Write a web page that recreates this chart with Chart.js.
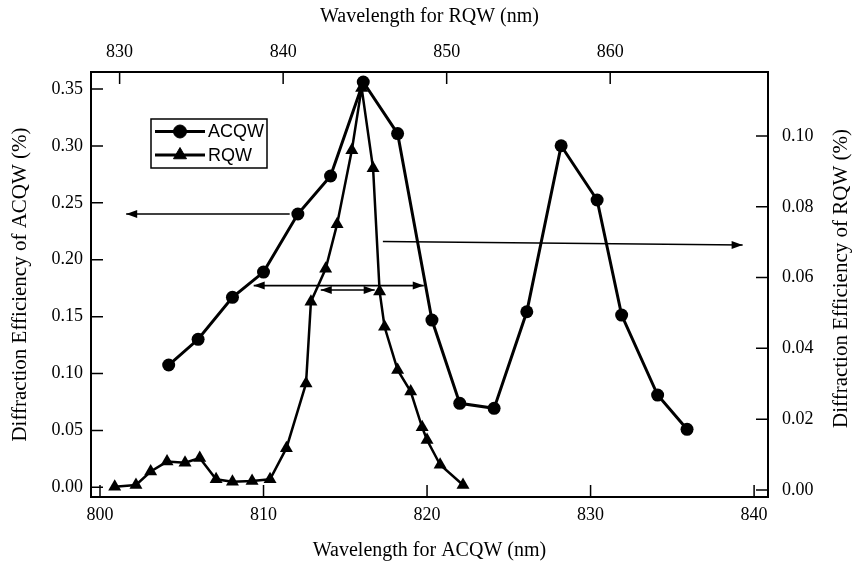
<!DOCTYPE html>
<html>
<head>
<meta charset="utf-8">
<script src="https://cdn.jsdelivr.net/npm/chart.js@4.4.0/dist/chart.umd.min.js"></script>
<style>
  html, body { margin: 0; padding: 0; background: #fff; }
  #wrap { width: 854px; height: 569px; }
</style>
</head>
<body>
<div id="wrap"><canvas id="chart" width="854" height="569"></canvas></div>
<script>
// ACQW: bottom axis (nm) / left axis (%)
const acqwWavelength = [804.2, 806.0, 808.1, 810.0, 812.1, 814.1, 816.1, 818.2, 820.3, 822.0, 824.1, 826.1, 828.2, 830.4, 831.9, 834.1, 835.9];
const acqwEfficiency = [0.1075, 0.1301, 0.1670, 0.1892, 0.2402, 0.2736, 0.3562, 0.3109, 0.1470, 0.0738, 0.0694, 0.1543, 0.3002, 0.2525, 0.1514, 0.0811, 0.0510];

// RQW: top axis (nm) / right axis (%)
const rqwWavelength = [829.7, 831.0, 831.9, 832.9, 834.0, 834.9, 835.9, 836.9, 838.1, 839.2, 840.2, 841.4, 841.7, 842.6, 843.3, 844.2, 844.8, 845.5, 845.9, 846.2, 847.0, 847.8, 848.5, 848.8, 849.6, 851.0];
const rqwEfficiency = [0.0009, 0.0014, 0.0052, 0.0080, 0.0077, 0.0090, 0.0030, 0.0023, 0.0025, 0.0030, 0.0118, 0.0301, 0.0532, 0.0625, 0.0751, 0.0960, 0.1136, 0.0909, 0.0561, 0.0461, 0.0339, 0.0278, 0.0177, 0.0141, 0.0071, 0.0014];

const bottomTicks = [800, 810, 820, 830, 840];
const topTicks = [830, 840, 850, 860];
const leftTicks = [0, 0.05, 0.10, 0.15, 0.20, 0.25, 0.30, 0.35];
const rightTicks = [0, 0.02, 0.04, 0.06, 0.08, 0.10];

// arrows on the plot, in bottom/left axis units
const arrowX1 = [811.6, 817.3, 809.4, 813.5];
const arrowX2 = [801.6, 839.3, 819.8, 816.8];
const arrowY1 = [0.2402, 0.2160, 0.1773, 0.1734];
const arrowY2 = [0.2402, 0.2130, 0.1773, 0.1734];
const arrowBoth = [false, false, true, true];

const serif = 'Liberation Serif';
const sans = 'Liberation Sans';

function setTicks(list) {
  return function (scale) { scale.ticks = list.map(v => ({ value: v })); };
}

const inwardTicks = {
  id: 'inwardTicks',
  beforeDatasetsDraw(chart) {
    const { ctx, chartArea: a, scales } = chart;
    const len = 12;
    ctx.save();
    ctx.strokeStyle = '#000';
    ctx.lineWidth = 1.5;
    ctx.beginPath();
    scales.x.ticks.forEach(t => { const p = scales.x.getPixelForValue(t.value); ctx.moveTo(p, a.bottom); ctx.lineTo(p, a.bottom - len); });
    scales.x2.ticks.forEach(t => { const p = scales.x2.getPixelForValue(t.value); ctx.moveTo(p, a.top); ctx.lineTo(p, a.top + len); });
    scales.y.ticks.forEach(t => { const p = scales.y.getPixelForValue(t.value); ctx.moveTo(a.left, p); ctx.lineTo(a.left + len, p); });
    scales.y2.ticks.forEach(t => { const p = scales.y2.getPixelForValue(t.value); ctx.moveTo(a.right, p); ctx.lineTo(a.right - len, p); });
    ctx.stroke();
    ctx.restore();
  }
};

function arrowHead(ctx, x, y, dir) {
  ctx.beginPath();
  ctx.moveTo(x, y);
  ctx.lineTo(x - dir * 11, y - 4);
  ctx.lineTo(x - dir * 11, y + 4);
  ctx.closePath();
  ctx.fill();
}

const arrows = {
  id: 'arrows',
  afterDatasetsDraw(chart) {
    const { ctx, scales } = chart;
    ctx.save();
    ctx.strokeStyle = '#000';
    ctx.fillStyle = '#000';
    ctx.lineWidth = 1.6;
    for (let i = 0; i < arrowX1.length; i++) {
      const x1 = scales.x.getPixelForValue(arrowX1[i]);
      const x2 = scales.x.getPixelForValue(arrowX2[i]);
      const y1 = scales.y.getPixelForValue(arrowY1[i]);
      const y2 = scales.y.getPixelForValue(arrowY2[i]);
      ctx.beginPath();
      ctx.moveTo(x1, y1);
      ctx.lineTo(x2, y2);
      ctx.stroke();
      const dir = x2 > x1 ? 1 : -1;
      arrowHead(ctx, x2, y2, dir);
      if (arrowBoth[i]) arrowHead(ctx, x1, y1, -dir);
    }
    ctx.restore();
  }
};

const boxLegend = {
  id: 'boxLegend',
  afterDraw(chart) {
    const { ctx, chartArea: a } = chart;
    const bx = a.left + 60, by = a.top + 47, bw = 116, bh = 49;
    ctx.save();
    ctx.fillStyle = '#fff';
    ctx.fillRect(bx, by, bw, bh);
    ctx.strokeStyle = '#000';
    ctx.lineWidth = 1.5;
    ctx.strokeRect(bx, by, bw, bh);
    ctx.fillStyle = '#000';
    const rows = [
      { y: by + 12.5, label: 'ACQW', style: 'circle', r: 6.5 },
      { y: by + 36, label: 'RQW', style: 'triangle', r: 7.5 }
    ];
    rows.forEach(row => {
      ctx.lineWidth = 3;
      ctx.beginPath();
      ctx.moveTo(bx + 4, row.y);
      ctx.lineTo(bx + 54, row.y);
      ctx.stroke();
      ctx.lineWidth = 1;
      Chart.helpers.drawPoint(ctx, { pointStyle: row.style, radius: row.r, borderWidth: 1, rotation: 0 }, bx + 29, row.y);
      ctx.font = '18px "' + sans + '"';
      ctx.textAlign = 'left';
      ctx.textBaseline = 'middle';
      ctx.fillText(row.label, bx + 57, row.y + 1);
    });
    ctx.restore();
  }
};

const rightTitle = {
  id: 'rightTitle',
  afterDraw(chart) {
    const { ctx, chartArea: a } = chart;
    ctx.save();
    ctx.translate(841, (a.top + a.bottom) / 2 - 6);
    ctx.rotate(-Math.PI / 2);
    ctx.font = '21px "' + serif + '"';
    ctx.fillStyle = '#000';
    ctx.textAlign = 'center';
    ctx.textBaseline = 'middle';
    ctx.fillText('Diffraction Efficiency of RQW (%)', 0, 0);
    ctx.restore();
  }
};

const tickFont = { family: serif, size: 18 };
const titleFont = { family: serif, size: 20 };
const border = { display: true, color: '#000', width: 2 };

new Chart(document.getElementById('chart'), {
  type: 'line',
  data: {
    datasets: [
      {
        label: 'ACQW',
        data: acqwWavelength.map((w, i) => ({ x: w, y: acqwEfficiency[i] })),
        xAxisID: 'x',
        yAxisID: 'y',
        borderColor: '#000',
        backgroundColor: '#000',
        borderWidth: 3,
        pointStyle: 'circle',
        pointRadius: 6.5,
        pointBorderWidth: 0,
        tension: 0
      },
      {
        label: 'RQW',
        data: rqwWavelength.map((w, i) => ({ x: w, y: rqwEfficiency[i] })),
        xAxisID: 'x2',
        yAxisID: 'y2',
        borderColor: '#000',
        backgroundColor: '#000',
        borderWidth: 2.5,
        pointStyle: 'triangle',
        pointRadius: 7.5,
        pointBorderWidth: 0,
        tension: 0
      }
    ]
  },
  options: {
    responsive: false,
    animation: false,
    layout: { padding: 0 },
    plugins: {
      legend: { display: false },
      tooltip: { enabled: false }
    },
    scales: {
      x: {
        type: 'linear',
        position: 'bottom',
        min: 799.45,
        max: 840.85,
        afterBuildTicks: setTicks(bottomTicks),
        afterFit: s => { s.height = 72; },
        grid: { display: false, drawTicks: false },
        border: border,
        ticks: { color: '#000', font: tickFont, padding: 7, maxRotation: 0, autoSkip: false, callback: v => String(v) },
        title: { display: true, text: 'Wavelength for ACQW (nm)', color: '#000', font: titleFont, padding: { top: 0, bottom: 6 } }
      },
      x2: {
        type: 'linear',
        position: 'top',
        min: 828.25,
        max: 869.65,
        afterBuildTicks: setTicks(topTicks),
        afterFit: s => { s.height = 72; },
        grid: { display: false, drawTicks: false },
        border: border,
        ticks: { color: '#000', font: tickFont, padding: 9, maxRotation: 0, autoSkip: false, callback: v => String(v) },
        title: { display: true, text: 'Wavelength for RQW (nm)', color: '#000', font: titleFont, padding: { top: 5, bottom: 0 } }
      },
      y: {
        type: 'linear',
        position: 'left',
        min: -0.0085,
        max: 0.365,
        afterBuildTicks: setTicks(leftTicks),
        afterFit: s => { s.width = 91; },
        grid: { display: false, drawTicks: false },
        border: border,
        ticks: { color: '#000', font: tickFont, padding: 8, autoSkip: false, callback: v => v.toFixed(2) },
        title: { display: true, text: 'Diffraction Efficiency of ACQW (%)', color: '#000', font: { family: serif, size: 21 }, padding: { top: 8, bottom: 0 } }
      },
      y2: {
        type: 'linear',
        position: 'right',
        min: -0.002,
        max: 0.1181,
        afterBuildTicks: setTicks(rightTicks),
        afterFit: s => { s.width = 86; },
        grid: { display: false, drawTicks: false },
        border: border,
        ticks: { color: '#000', font: tickFont, padding: 14, autoSkip: false, callback: v => v.toFixed(2) }
      }
    }
  },
  plugins: [inwardTicks, arrows, boxLegend, rightTitle]
});
</script>
</body>
</html>
